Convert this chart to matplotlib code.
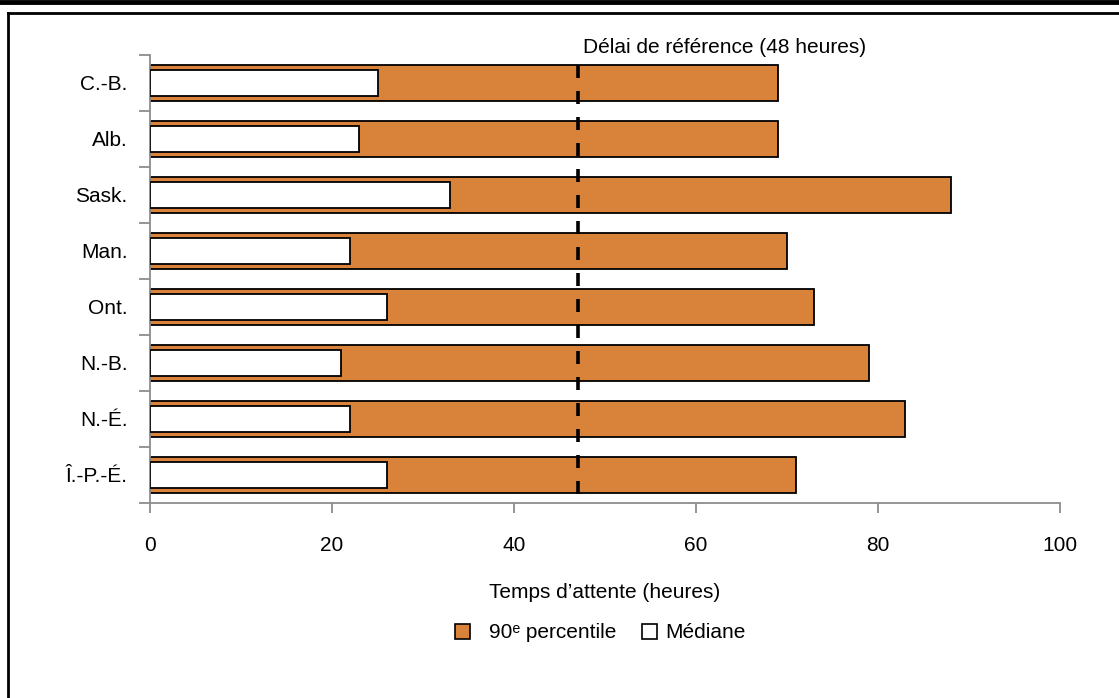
import matplotlib
matplotlib.use("Agg")
import matplotlib.pyplot as plt
from matplotlib.lines import Line2D
from matplotlib.patches import Patch
import numpy as np

provinces = ["C.-B.", "Alb.", "Sask.", "Man.", "Ont.", "N.-B.", "N.-É.", "Î.-P.-É."]
p90 = [69, 69, 88, 70, 73, 79, 83, 71]
median = [25, 23, 33, 22, 26, 21, 22, 26]
benchmark = 47
xticks = [0, 20, 40, 60, 80, 100]

FONT = ["Liberation Sans Narrow", "Liberation Sans", "DejaVu Sans"]
plt.rcParams["font.family"] = FONT

ORANGE = "#D98239"
GRAY = "#8C8C8C"

fig = plt.figure(figsize=(11.19, 6.98), dpi=100)
W, H = 1119, 698
ax = fig.add_axes([150 / W, 1 - 503 / H, 910 / W, 448 / H])

y = np.arange(len(provinces))
ax.barh(y, p90, height=0.65, color=ORANGE, edgecolor="black", linewidth=1.3, zorder=2)
ax.barh(y, median, height=0.45, color="white", edgecolor="black", linewidth=1.3, zorder=3)

ax.set_ylim(len(provinces) - 0.5, -0.5)
ax.set_xlim(0, 100)

# benchmark line
ax.plot([benchmark, benchmark], [-0.33, 7.35], color="black", lw=2.6,
        dashes=(3.6, 3.6), zorder=4, dash_capstyle="butt")
ax.text(benchmark + 0.6, -0.46, "Délai de référence (48 heures)", fontsize=15,
        ha="left", va="bottom", clip_on=False)

for s in ["top", "right"]:
    ax.spines[s].set_visible(False)
for s in ["left", "bottom"]:
    ax.spines[s].set_color(GRAY)
    ax.spines[s].set_linewidth(1.3)

ax.set_xticks(xticks)
ax.set_xticklabels([str(v) for v in xticks], fontsize=15)
ax.tick_params(axis="x", length=7, width=1.3, color=GRAY, pad=17)

ax.set_yticks(y)
ax.set_yticklabels(provinces, fontsize=15)
ax.tick_params(axis="y", length=0, pad=16)
ax.set_yticks(np.arange(-0.5, len(provinces)), minor=True)
ax.tick_params(axis="y", which="minor", length=8, width=1.3, color=GRAY)

ax.set_xlabel("Temps d’attente (heures)", fontsize=15, labelpad=20)

# legend entries, placed one at a time
fig.legend([Patch(facecolor=ORANGE, edgecolor="black", linewidth=1.2)],
           ["90ᵉ percentile"], loc="center left",
           bbox_to_anchor=(449 / W, 1 - 633 / H), frameon=False,
           fontsize=15, handlelength=0.7, handleheight=0.7, handletextpad=0.9,
           borderaxespad=0, borderpad=0.3)
fig.legend([Patch(facecolor="white", edgecolor="black", linewidth=1.2)],
           ["Médiane"], loc="center left",
           bbox_to_anchor=(636 / W, 1 - 633 / H), frameon=False,
           fontsize=15, handlelength=0.7, handleheight=0.7, handletextpad=0.4,
           borderaxespad=0, borderpad=0.3)

# frame around the figure
fig.add_artist(Line2D([0, 1], [1 - 1.5 / H, 1 - 1.5 / H], color="black", lw=3.5,
                      transform=fig.transFigure))
fig.add_artist(Line2D([8 / W, 1], [1 - 12.5 / H, 1 - 12.5 / H], color="black", lw=2,
                      transform=fig.transFigure))
fig.add_artist(Line2D([8 / W, 8 / W], [0, 1 - 12.5 / H], color="black", lw=2,
                      transform=fig.transFigure))

fig.savefig("out.png", dpi=100)
